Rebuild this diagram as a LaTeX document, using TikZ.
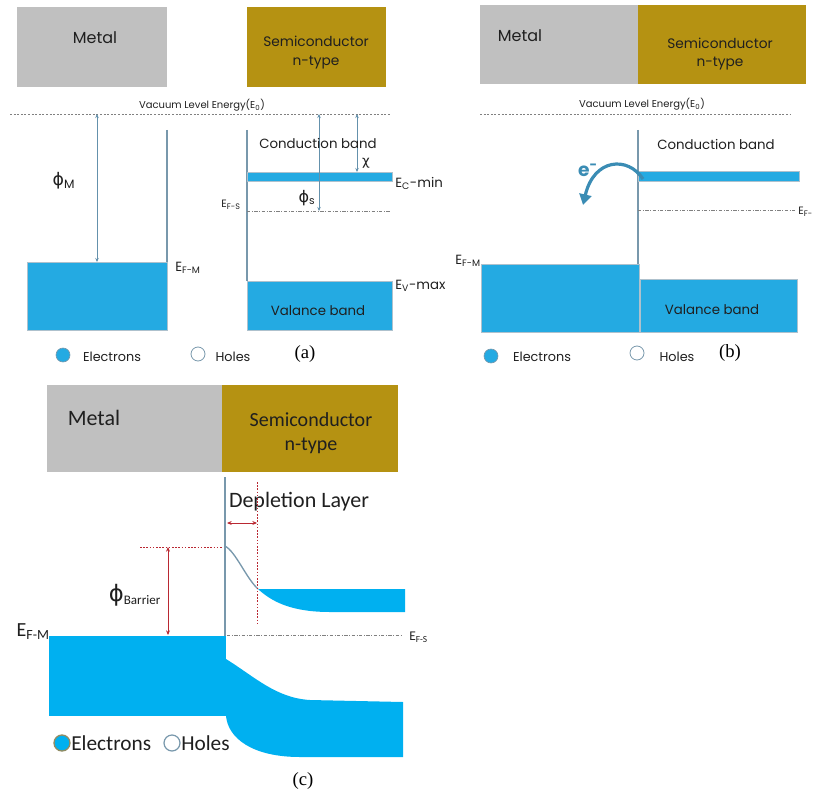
\documentclass[tikz,border=0pt]{standalone}
\usepackage{fontspec}
\newfontfamily\gothic{Poppins}
\newfontfamily\calib{Carlito}
\newfontfamily\serifrm{Liberation Serif}
\newfontfamily\symfont{DejaVu Sans}
\usetikzlibrary{arrows.meta}
\definecolor{metalgray}{RGB}{192,192,192}
\definecolor{semigold}{RGB}{181,146,18}
\definecolor{bandcyan}{RGB}{36,170,226}
\definecolor{bandcyanc}{RGB}{0,176,240}
\definecolor{edgeblue}{RGB}{120,152,172}
\definecolor{arrowblue}{RGB}{100,145,172}
\definecolor{eteal}{RGB}{58,140,180}
\definecolor{barrierred}{RGB}{185,40,50}
\newcommand{\fs}[1]{\fontsize{#1}{#1}\selectfont}
\begin{document}
\begin{tikzpicture}[x=0.75pt,y=-0.75pt,
    metalfill/.style={fill=metalgray},
    semifill/.style={fill=semigold},
    band/.style={fill=bandcyan,draw=edgeblue!60,line width=0.4pt},
    bandc/.style={fill=bandcyanc},
    edgeline/.style={draw=edgeblue,line width=0.8pt},
    vacline/.style={draw=gray,line width=0.5pt,dash pattern=on 1.5pt off 1.2pt},
    fermiline/.style={draw=gray,line width=0.5pt,dash pattern=on 2.5pt off 1.2pt on 0.6pt off 1.2pt},
    gaparrow/.style={draw=arrowblue,line width=0.6pt,{Stealth[length=3pt,width=2.6pt]}-{Stealth[length=3pt,width=2.6pt]}},
    redarrow/.style={draw=barrierred,line width=0.6pt,{Stealth[length=3.5pt,width=3pt]}-{Stealth[length=3.5pt,width=3pt]}},
    reddots/.style={draw=barrierred,line width=0.6pt,dash pattern=on 1.2pt off 1.2pt},
    lbl/.style={inner sep=0pt,text=black!88,font=\gothic\fs{10}},
    tiny/.style={inner sep=0pt,text=black!88,font=\gothic\fs{7.5}},
    legend/.style={inner sep=0pt,text=black!88,font=\gothic\fs{9.6}},
    lblc/.style={inner sep=0pt,text=black!88,font=\calib\fs{15}},
    legendc/.style={inner sep=0pt,text=black!88,font=\calib\fs{16}},
    tag/.style={inner sep=0pt,font=\serifrm\fs{14}},
    electron/.style={fill=bandcyan,draw=edgeblue,line width=0.5pt},
    hole/.style={fill=white,draw=edgeblue,line width=0.6pt}]
\useasboundingbox (0,0) rectangle (813,795);

% (a) separated metal and semiconductor
\path[metalfill] (17,7) rectangle (167,87);
\path[semifill] (247,7) rectangle (386,87);
\node[lbl,font=\gothic\fs{12}] (metalA) at (95,38) {Metal};
\node[lbl,font=\gothic\fs{10.3}] (semiA) at (316,41) {Semiconductor};
\node[lbl,font=\gothic\fs{10.3}] (ntypeA) at (316,63) {n-type};
\node[tiny] (vacA) at (202,105) {Vacuum Level Energy(E\textsubscript{0})};
\draw[vacline] (10,114) -- (390,114);
\draw[edgeline] (167,130) -- (167,262);
\draw[edgeline] (247,130) -- (247,281);
\draw[band] (27,262) rectangle (167,330);
\draw[band] (247,172) rectangle (392,181);
\draw[band] (247,281) rectangle (392,330);
\draw[fermiline] (247,211) -- (390,211);
\draw[gaparrow] (97,114) -- (97,262);
\draw[gaparrow] (319,114) -- (319,211);
\draw[gaparrow] (357,114) -- (357,172);
\node[lbl,font=\fs{13}] (phiM) at (64,181) {{\symfont ϕ}\textsubscript{\gothic M}};
\node[lbl,font=\fs{12}] (phiS) at (307,198) {{\symfont ϕ}\textsubscript{\gothic s}};
\node[lbl,font=\symfont\fs{10}] (chi) at (366,163) {χ};
\node[lbl] (condA) at (318,143) {Conduction band};
\node[lbl] (valA) at (318,311) {Valance band};
\node[lbl,anchor=west] (efm) at (175,268) {E\textsubscript{F-M}};
\node[lbl,anchor=west] (ecmin) at (395,183) {E\textsubscript{C}-min};
\node[lbl,anchor=west] (evmax) at (395,286) {E\textsubscript{V}-max};
\node[tiny,font=\gothic\fs{8}] (efsA) at (231,205) {E\textsubscript{F-S}};
\draw[electron] (63,355) circle (7);
\node[legend] (elA) at (112,357) {Electrons};
\draw[hole] (198,354) circle (7);
\node[legend] (hoA) at (233,357) {Holes};
\node[tag] (tagA) at (305,354) {(a)};

% (b) metal and semiconductor in contact
\path[metalfill] (480,5) rectangle (638,84);
\path[semifill] (638,5) rectangle (806,84);
\node[lbl,font=\gothic\fs{12}] (metalB) at (520,36) {Metal};
\node[lbl,font=\gothic\fs{10.3}] (semiB) at (720,43) {Semiconductor};
\node[lbl,font=\gothic\fs{10.3}] (ntypeB) at (720,64) {n-type};
\node[tiny] (vacB) at (642,104) {Vacuum Level Energy(E\textsubscript{0})};
\draw[vacline] (480,114) -- (790,114);
\draw[edgeline] (638,130) -- (638,264);
\draw[band] (638,171) rectangle (799,181);
\draw[fermiline] (638,210) -- (795,210);
\node[tiny,anchor=west,font=\gothic\fs{8}] (efsB) at (798,212) {E\textsubscript{F-}};
\draw[band] (481,264) rectangle (639,332);
\draw[band] (640,279) rectangle (797,332);
\node[lbl] (condB) at (716,144) {Conduction band};
\node[lbl] (valB) at (712,310) {Valance band};
\node[lbl,anchor=east,font=\gothic\fs{10}] (efmB) at (481,261) {E\textsubscript{F-M}};
\coordinate (eStart) at (643,179);
\coordinate (eEnd) at (583,205);
\draw[eteal,line width=2.4pt,-{Triangle[length=8pt,width=9pt]}]
  (eStart) .. controls (628,156) and (594,158) .. (eEnd);
\node[inner sep=0pt,text=eteal,font=\gothic\bfseries\fs{14}] (elec) at (588,170) {e\textsuperscript{-}};
\draw[electron] (491,356) circle (7);
\node[legend] (elB) at (542,357) {Electrons};
\draw[hole] (637,353) circle (7);
\node[legend] (hoB) at (677,357) {Holes};
\node[tag] (tagB) at (730,353) {(b)};

% (c) depletion layer and barrier
\path[metalfill] (47,385) rectangle (222,472);
\path[semifill] (222,385) rectangle (398,472);
\node[lblc,font=\calib\fs{16.5}] (metalC) at (94,418) {Metal};
\node[lblc] (semiC) at (311,420) {Semiconductor};
\node[lblc] (ntypeC) at (311,446) {n-type};
\node[lblc,font=\calib\fs{16.5}] (depl) at (299,502) {Depletion Layer};
\path[bandc] (49,636) rectangle (226,716);
\path[bandc] (258,589) -- (405,589) -- (405,612) -- (330,612)
  .. controls (292,612) and (272,602) .. (258,589) -- cycle;
\path[bandc] (226,659) .. controls (255,677) and (276,698) .. (310,700)
  -- (403,702) -- (403,757) -- (300,757)
  .. controls (252,757) and (228,738) .. (226,716) -- cycle;
\draw[edgeline,line width=1pt] (225,546) .. controls (236,552) and (246,578) .. (258,589);
\draw[edgeline,line width=1pt] (225,477) -- (225,636);
\draw[fermiline] (227,635) -- (402,635);
\node[lblc,anchor=west,font=\calib\fs{10}] (efsC) at (409,637) {E\textsubscript{F-S}};
\node[lblc,anchor=east,font=\calib\fs{15}] (efmC) at (50,632) {E\textsubscript{F-M}};
\draw[reddots] (140,547) -- (223,547);
\draw[reddots] (257,482) -- (257,624);
\draw[redarrow] (168,547) -- (168,635);
\draw[redarrow] (227,523) -- (257,523);
\node[lblc,font=\fs{17}] (phiB) at (135,595) {{\symfont ϕ}{\calib\fs{14}\textsubscript{Barrier}}};
\draw[fill=bandcyanc,draw=gray!70!olive,line width=1pt] (62,743) circle (8);
\node[legendc,anchor=west] (elC) at (71,743) {Electrons};
\draw[hole,line width=0.9pt] (172,743) circle (8);
\node[legendc,anchor=west] (hoC) at (181,743) {Holes};
\node[tag] (tagC) at (303,781) {(c)};
\end{tikzpicture}
\end{document}
